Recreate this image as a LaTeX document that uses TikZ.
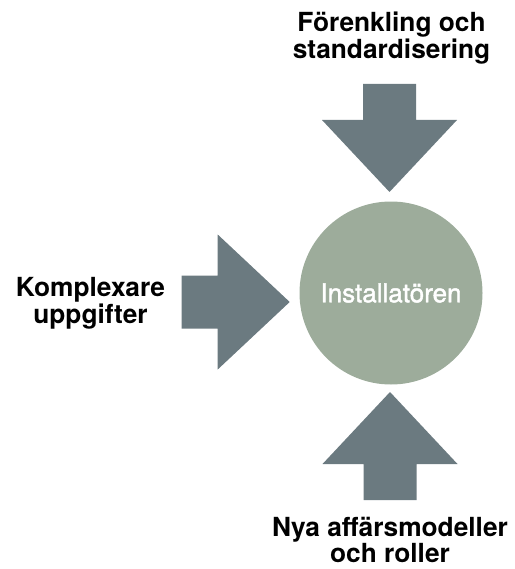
\documentclass[tikz,border=0pt]{standalone}
\usepackage{fontspec}
\setmainfont{TeX Gyre Heros}
\newfontfamily\hubfont{TeX Gyre Heros}[FakeBold=1.6]
\definecolor{arrowgrey}{HTML}{6B7A80}
\definecolor{hubsage}{HTML}{9DAC9B}
\begin{document}
\begin{tikzpicture}[x=1pt,y=-1pt,
  blockarrow/.pic={
    \fill[arrowgrey] (0,-26.5) -- (36,-26.5) -- (36,-67.5) -- (108,0)
      -- (36,67.5) -- (36,26.5) -- (0,26.5) -- cycle;
  },
  label/.style={inner sep=0pt, align=center, anchor=base,
    font=\fontsize{26.3}{22}\selectfont\bfseries},
  hub/.style={circle, fill=hubsage, minimum size=183pt, inner sep=0pt,
    text=white, font=\hubfont\fontsize{26}{28}\selectfont}
]
\useasboundingbox (0,0) rectangle (514,569);

% central circle
\node[hub] (hub) at (391,293) {Installatören};

% arrow tails
\coordinate (toptail) at (389.5,84);
\coordinate (lefttail) at (181.7,302);
\coordinate (bottail) at (390,500);

% block arrows pointing at the circle
\pic[rotate=-90] at (toptail) {blockarrow};
\pic at (lefttail) {blockarrow};
\pic[rotate=90] at (bottail) {blockarrow};

% captions (anchored at the baseline of their last line)
\node[label] (toplabel) at (391.5,58.3) {Förenkling och\\standardisering};
\node[label] (leftlabel) at (90.5,323.3) {Komplexare\\uppgifter};
\node[label, text depth=0pt] (botlabel) at (390,562.5) {Nya affärsmodeller\\och roller};
\end{tikzpicture}
\end{document}
